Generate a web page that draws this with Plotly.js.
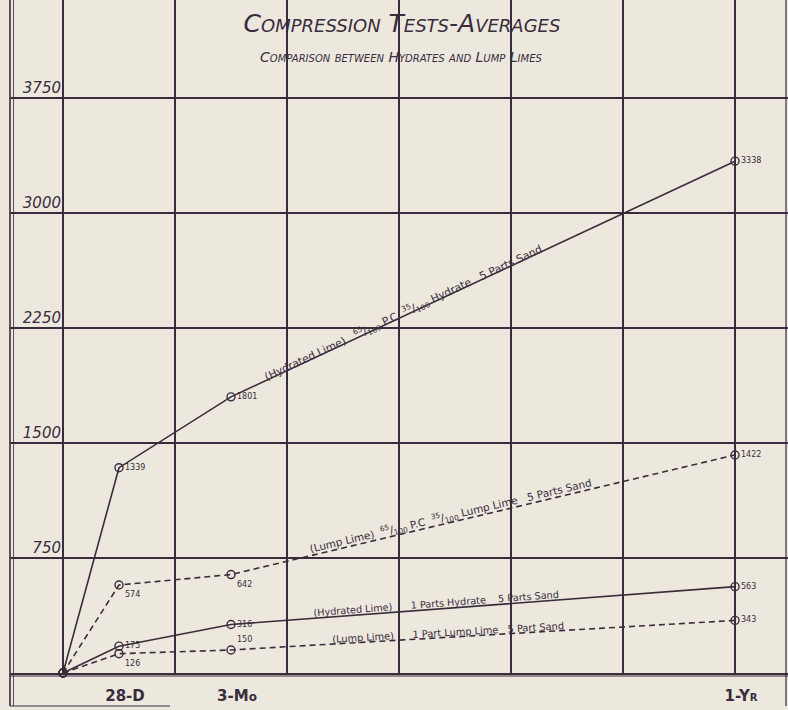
<!DOCTYPE html>
<html>
<head>
<meta charset="utf-8">
<script src="https://cdn.plot.ly/plotly-3.0.1.min.js"></script>
<style>html,body{margin:0;padding:0;background:#ece8de;}#chart{width:788px;height:710px;}</style>
</head>
<body>
<div id="chart"></div>
<script>
// ---- data ----
const ageMonths = [0, 1, 3, 12];              // origin, 28 days, 3 months, 1 year
const hydratedRich = [0, 1339, 1801, 3338];   // 65/100 P.C 35/100 Hydrate 5 Parts Sand
const lumpRich = [0, 574, 642, 1422];         // 65/100 P.C 35/100 Lump Lime 5 Parts Sand
const hydratedLean = [0, 175, 316, 563];      // 1 Parts Hydrate 5 Parts Sand
const lumpLean = [0, 126, 150, 343];          // 1 Part Lump Lime 5 Part Sand
const xTickVals = [1, 3, 12];
const xTickText = ['28-D', '3-M<span style="font-size:12px">o</span>', '1-Y<span style="font-size:10px">R</span>'];
const yTickVals = [750, 1500, 2250, 3000, 3750];
const yTickText = ['750', '1500', '2250', '3000', '3750'];
const seriesLabels = [
  '(Hydrated Lime)   <sup>65</sup>/<sub>100</sub> P.C  <sup>35</sup>/<sub>100</sub> Hydrate   5 Parts Sand',
  '(Lump Lime)  <sup>65</sup>/<sub>100</sub> P.C  <sup>35</sup>/<sub>100</sub> Lump Lime   5 Parts Sand',
  '(Hydrated Lime)      1 Parts Hydrate    5 Parts Sand',
  '(Lump Lime)      1 Part Lump Lime   5 Part Sand'
];

// ---- styling ----
const ink = '#3a2c3c';
const bg = '#ece8de';
const W = 788, H = 710;
const M = {l: 10, r: 0, t: 0, b: 37};
const xRange = [-0.946, 12.946];
const yRange = [0, 4389];
const plotW = W - M.l - M.r, plotH = H - M.t - M.b;
const pxPerX = plotW / (xRange[1] - xRange[0]);
const pxPerY = plotH / (yRange[1] - yRange[0]);
const font = 'DejaVu Sans, sans-serif';

function labelsFor(vals) { return vals.map((v, i) => i === 0 ? '' : String(v)); }

function series(vals, dash, pos) {
  return {
    x: ageMonths, y: vals, type: 'scatter', mode: 'lines+markers+text',
    line: {color: ink, width: 1.6, dash: dash},
    marker: {symbol: 'circle-open', size: 8, color: ink, line: {width: 1.4, color: ink}},
    text: labelsFor(vals), textposition: pos,
    textfont: {family: font, size: 8, color: ink},
    hoverinfo: 'skip', cliponaxis: false, showlegend: false
  };
}

const traces = [
  series(hydratedRich, 'solid', ['middle right', 'middle right', 'middle right', 'middle right']),
  series(lumpRich, '6px,4px', ['middle right', 'bottom right', 'bottom right', 'middle right']),
  series(hydratedLean, 'solid', ['middle right', 'middle right', 'middle right', 'middle right']),
  series(lumpLean, '6px,4px', ['middle right', 'bottom right', 'top right', 'middle right']),
  {x: [], y: [], xaxis: 'x2', type: 'scatter', showlegend: false, hoverinfo: 'skip'}
];

// series label placed along the last segment of each line
function lineLabel(vals, xAt, text, size, shift) {
  const dx = ageMonths[3] - ageMonths[2];
  const dy = vals[3] - vals[2];
  const yAt = vals[2] + (xAt - ageMonths[2]) / dx * dy;
  const ang = Math.atan2(dy * pxPerY, dx * pxPerX) * 180 / Math.PI;
  const r = ang * Math.PI / 180;
  return {
    x: xAt, y: yAt, xref: 'x', yref: 'y', text: text, showarrow: false,
    textangle: -ang, font: {family: font, size: size, color: ink},
    xshift: -Math.sin(r) * shift, yshift: Math.cos(r) * shift
  };
}

const annotations = [
  lineLabel(hydratedRich, 6.1, seriesLabels[0], 10.8, 3),
  lineLabel(lumpRich, 6.95, seriesLabels[1], 10.5, 6),
  lineLabel(hydratedLean, 6.66, seriesLabels[2], 9.7, 6),
  lineLabel(lumpLean, 6.88, seriesLabels[3], 9.8, 5),
  {xref: 'paper', yref: 'paper', x: (401 - M.l) / plotW, y: 1 - 47 / plotH,
   text: 'Comparison between Hydrates and Lump Limes', showarrow: false,
   font: {family: font, size: 14, color: ink, variant: 'small-caps', style: 'italic'}}
];

const ln = (x0, y0, x1, y1, w) => ({type: 'line', xref: 'paper', yref: 'paper', x0, y0, x1, y1,
  line: {color: ink, width: w}, layer: 'above'});
const shapes = [
  ln(0, -33 / plotH, 0, 1, 1.6),
  ln(0.0045, -33 / plotH, 0.0045, 1, 0.8),
  ln(0, -3 / plotH, 1, -3 / plotH, 1),
  ln(0, -33 / plotH, 160 / plotW, -33 / plotH, 1.2),
  ln((786 - M.l) / plotW, -33 / plotH, (786 - M.l) / plotW, 1, 1.2)
];

const layout = {
  width: W, height: H, margin: M,
  paper_bgcolor: bg, plot_bgcolor: bg,
  showlegend: false,
  title: {text: 'Compression Tests-Averages', xref: 'container', yref: 'container',
    x: 402 / W, y: 1 - 23 / H, xanchor: 'center', yanchor: 'middle',
    font: {family: font, size: 25, color: ink, variant: 'small-caps', style: 'italic'}},
  xaxis: {range: xRange, tickmode: 'array', tickvals: xTickVals, ticktext: xTickText,
    showgrid: false, zeroline: false, showline: true, linecolor: ink, linewidth: 2,
    ticks: '', ticklabelshift: 6, ticklabelstandoff: 8,
    tickfont: {family: font, size: 15, color: ink, weight: 'bold'}},
  xaxis2: {range: xRange, overlaying: 'x', tickmode: 'linear', tick0: 0, dtick: 2,
    showgrid: true, gridcolor: ink, gridwidth: 1.3, showticklabels: false,
    zeroline: false, showline: false, ticks: ''},
  yaxis: {range: yRange, tickmode: 'array', tickvals: yTickVals, ticktext: yTickText,
    showgrid: true, gridcolor: ink, gridwidth: 1.3, zeroline: false, showline: false,
    anchor: 'free', position: (64 - M.l) / plotW, ticks: '',
    ticklabelposition: 'outside top', ticklabelstandoff: 3,
    tickfont: {family: font, size: 15, color: ink, style: 'italic'}},
  annotations: annotations,
  shapes: shapes
};

Plotly.newPlot('chart', traces, layout, {displayModeBar: false, staticPlot: true});
</script>
</body>
</html>
